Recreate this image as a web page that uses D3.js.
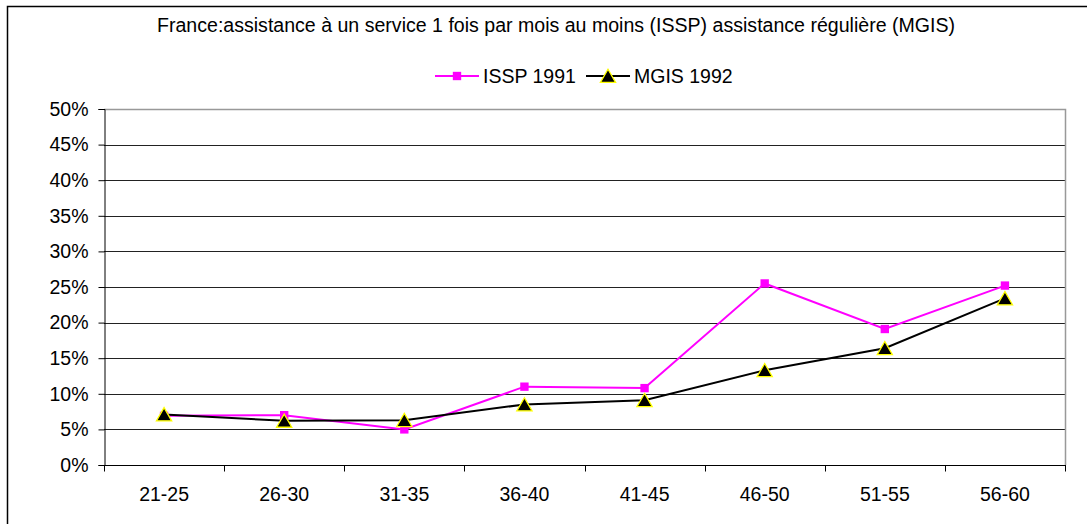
<!DOCTYPE html>
<html><head><meta charset="utf-8">
<script src="https://cdn.jsdelivr.net/npm/d3@7"></script>
<style>body{margin:0;background:#fff}svg{display:block}text{font-family:Arial,"Liberation Sans",sans-serif;fill:#000}</style>
</head><body>
<svg id="c" width="1087" height="524"></svg>
<script>
const title = "France:assistance à un service 1 fois par mois au moins (ISSP) assistance régulière (MGIS)";
const categories = ["21-25","26-30","31-35","36-40","41-45","46-50","51-55","56-60"];
const issp1991 = [0.069,0.070,0.050,0.110,0.108,0.255,0.191,0.252];
const mgis1992 = [0.071,0.062,0.063,0.085,0.091,0.133,0.164,0.234];
const yTicks = [0,0.05,0.10,0.15,0.20,0.25,0.30,0.35,0.40,0.45,0.50];
const seriesNames = ["ISSP 1991","MGIS 1992"];

const FS = 19.5;
const svg = d3.select("#c");
const L=104, R=1065, T=109, B=465;
const x = d3.scaleBand().domain(categories).range([L,R]);
const y = d3.scaleLinear().domain([0,0.5]).range([B,T]);

// outer border
svg.append("rect").attr("x",7.5).attr("y",6.5).attr("width",1100).attr("height",530)
  .attr("fill","none").attr("stroke","#000").attr("stroke-width",1.5);

svg.append("text").attr("x",556).attr("y",32).attr("text-anchor","middle")
  .attr("font-size",FS).attr("textLength",798).attr("lengthAdjust","spacingAndGlyphs").text(title);

// gridlines
svg.append("g").selectAll("line").data(yTicks.filter(d=>d>0&&d<0.5)).join("line")
  .attr("x1",L).attr("x2",R).attr("y1",d=>Math.round(y(d))+0.5).attr("y2",d=>Math.round(y(d))+0.5)
  .attr("stroke","#222").attr("stroke-width",1);
// plot frame top/right gray
svg.append("path").attr("d",`M${L},${T+0.5}H${R+0.5}V${B}`).attr("fill","none").attr("stroke","#999").attr("stroke-width",1.5);

// y axis
const yAxis = svg.append("g").attr("transform",`translate(${L+0.5},0)`)
  .call(d3.axisLeft(y).tickValues(yTicks).tickFormat(d3.format(".0%")).tickSize(6).tickPadding(10));
yAxis.select(".domain").attr("stroke","#000");
yAxis.selectAll("text").attr("font-size",FS).attr("font-family","Arial, Liberation Sans, sans-serif");

// x axis with ticks at band boundaries
const xg = svg.append("g").attr("transform",`translate(0,${B+0.5})`);
xg.append("line").attr("x1",L).attr("x2",R+1).attr("stroke","#000");
const bounds = categories.map(c=>x(c)).concat([x(categories[categories.length-1])+x.bandwidth()]);
xg.selectAll("line.t").data(bounds).join("line").attr("class","t")
  .attr("x1",d=>Math.round(d)+0.5).attr("x2",d=>Math.round(d)+0.5).attr("y1",0).attr("y2",6).attr("stroke","#000");
xg.selectAll("text").data(categories).join("text")
  .attr("x",d=>x(d)+x.bandwidth()/2).attr("y",35).attr("text-anchor","middle").attr("font-size",FS).text(d=>d);

const cx = d=>x(d)+x.bandwidth()/2;
const line = d3.line().x((d,i)=>cx(categories[i])).y(d=>y(d));
svg.append("path").datum(issp1991).attr("d",line).attr("fill","none").attr("stroke","#ff00ff").attr("stroke-width",2);
svg.append("path").datum(mgis1992).attr("d",line).attr("fill","none").attr("stroke","#000").attr("stroke-width",2);

const sq = d3.symbol().type(d3.symbolSquare).size(70);
const tri = d3.symbol().type(d3.symbolTriangle).size(100);
svg.append("g").selectAll("path").data(issp1991).join("path")
  .attr("transform",(d,i)=>`translate(${cx(categories[i])},${y(d)})`).attr("d",sq).attr("fill","#ff00ff");
svg.append("g").selectAll("path").data(mgis1992).join("path")
  .attr("transform",(d,i)=>`translate(${cx(categories[i])},${y(d)+2})`).attr("d",tri)
  .attr("fill","#000").attr("stroke","#ffff00").attr("stroke-width",1.3);

// legend
const lg = svg.append("g");
const ly = 76;
lg.append("line").attr("x1",435).attr("x2",479).attr("y1",ly).attr("y2",ly).attr("stroke","#ff00ff").attr("stroke-width",2);
lg.append("path").attr("transform",`translate(457,${ly})`).attr("d",sq).attr("fill","#ff00ff");
lg.append("text").attr("x",483).attr("y",ly+7).attr("font-size",FS).text(seriesNames[0]);
lg.append("line").attr("x1",586).attr("x2",630).attr("y1",ly).attr("y2",ly).attr("stroke","#000").attr("stroke-width",2);
lg.append("path").attr("transform",`translate(608,${ly+2})`).attr("d",tri).attr("fill","#000").attr("stroke","#ffff00").attr("stroke-width",1.3);
lg.append("text").attr("x",634).attr("y",ly+7).attr("font-size",FS).text(seriesNames[1]);
</script>
</body></html>
